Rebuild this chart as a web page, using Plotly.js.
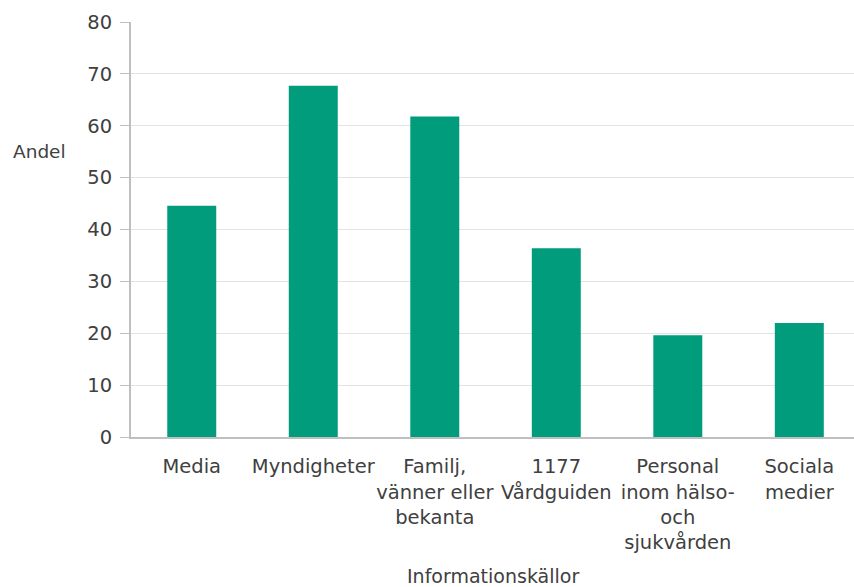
<!DOCTYPE html>
<html>
<head>
<meta charset="utf-8">
<script src="https://cdn.plot.ly/plotly-3.0.1.min.js"></script>
<style>
  html, body { margin: 0; padding: 0; background: #ffffff; }
  #chart { width: 854px; height: 587px; }
</style>
</head>
<body>
<div id="chart"></div>
<script>
// Informationskällor och andel (%) som använt respektive källa
const categories = [
  "Media",
  "Myndigheter",
  "Familj,<br>vänner eller<br>bekanta",
  "1177<br>Vårdguiden",
  "Personal<br>inom hälso-<br>och<br>sjukvården",
  "Sociala<br>medier"
];
const andel = [44.6, 67.7, 61.8, 36.4, 19.6, 22.0];
const yTicks = [0, 10, 20, 30, 40, 50, 60, 70, 80];

const textColor = "#404040";
const axisGray = "#bfbfbf";
const fontFamily = "DejaVu Sans, Verdana, sans-serif";

const trace = {
  type: "bar",
  x: categories,
  y: andel,
  marker: { color: "#019c7b" },
  hoverinfo: "x+y"
};

const layout = {
  width: 854,
  height: 587,
  margin: { l: 131, r: 0, t: 22, b: 150 },
  paper_bgcolor: "#ffffff",
  plot_bgcolor: "#ffffff",
  bargap: 0.597,
  showlegend: false,
  font: { family: fontFamily, size: 19, color: textColor },
  xaxis: {
    type: "category",
    range: [-0.5, 5.45],
    showline: true,
    linecolor: axisGray,
    linewidth: 2,
    ticks: "",
    showgrid: false,
    tickangle: 0,
    tickfont: { family: fontFamily, size: 19.5, color: textColor },
    ticklabelstandoff: 11
  },
  yaxis: {
    range: [0, 80],
    tickvals: yTicks,
    showline: true,
    linecolor: axisGray,
    linewidth: 2,
    ticks: "outside",
    ticklen: 9,
    tickwidth: 1,
    tickcolor: axisGray,
    showgrid: true,
    gridcolor: "#e3e3e3",
    gridwidth: 1,
    zeroline: false,
    tickfont: { family: fontFamily, size: 19.5, color: textColor },
    ticklabelstandoff: 4
  },
  annotations: [
    {
      text: "Andel",
      xref: "paper", yref: "paper",
      x: -0.127, y: 0.687,
      xanchor: "center", yanchor: "middle",
      showarrow: false,
      font: { family: fontFamily, size: 18.5, color: textColor }
    },
    {
      text: "Informationskällor",
      xref: "paper", yref: "paper",
      x: 0.5, y: -0.335,
      xanchor: "center", yanchor: "middle",
      showarrow: false,
      font: { family: fontFamily, size: 19, color: textColor }
    }
  ]
};

Plotly.newPlot("chart", [trace], layout, { displayModeBar: false, staticPlot: true });
</script>
</body>
</html>
